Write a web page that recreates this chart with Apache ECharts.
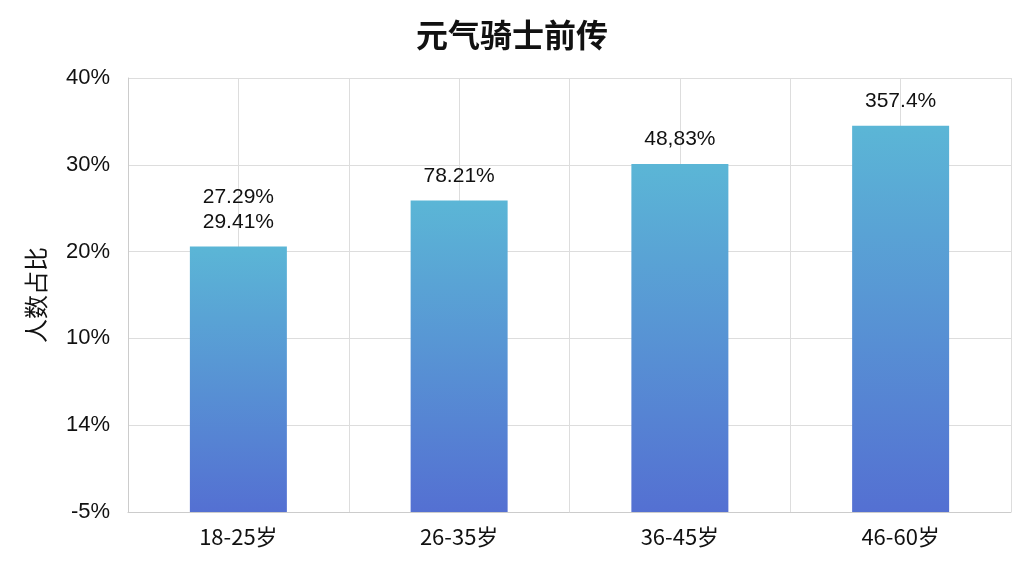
<!DOCTYPE html>
<html><head><meta charset="utf-8">
<script src="https://cdn.jsdelivr.net/npm/echarts@6/dist/echarts.min.js"></script>
<style>html,body{margin:0;padding:0;background:#fff}#c{width:1024px;height:576px}</style>
</head><body><div id="c"></div>
<script>
const categories = ['18-25岁','26-35岁','36-45岁','46-60岁'];
const values = [30.6, 35.9, 40.1, 44.5];
const barLabels = ['27.29%\n29.41%','78.21%','48,83%','357.4%'];
const tickLabels = ['-5%','14%','10%','20%','30%','40%'];
const chart = echarts.init(document.getElementById('c'));
chart.setOption({
  title:{text:'元气骑士前传',left:'center',top:14,textStyle:{fontSize:32,fontWeight:'bold',color:'#111',fontFamily:'Noto Sans CJK SC'}},
  grid:{left:128,right:13,top:78,bottom:64},
  xAxis:[{type:'category',data:categories,axisTick:{show:false},axisLine:{lineStyle:{color:'#ccc'}},
    axisLabel:{fontSize:22,color:'#111',margin:14,fontFamily:'Noto Sans CJK SC'},splitLine:{show:false}},
    {type:'value',min:0,max:8,interval:1,show:true,position:'bottom',axisLabel:{show:false},axisTick:{show:false},axisLine:{show:false},splitLine:{show:true,lineStyle:{color:'#ddd'}}}],
  yAxis:{type:'value',min:0,max:50,interval:10,name:'人数占比',nameLocation:'middle',nameGap:80,
    nameTextStyle:{fontSize:24,color:'#111',fontFamily:'Noto Sans CJK SC'},
    axisLine:{show:true,lineStyle:{color:'#ccc'}},axisTick:{show:false},
    axisLabel:{fontSize:22,color:'#111',margin:18,formatter:(v)=>tickLabels[Math.round(v/10)]},
    splitLine:{lineStyle:{color:'#ddd'}}},
  series:[{type:'bar',data:values,barWidth:97,xAxisIndex:0,
    itemStyle:{color:new echarts.graphic.LinearGradient(0,0,0,1,[{offset:0,color:'#5bb6d6'},{offset:1,color:'#5470d2'}])},
    label:{show:true,position:'top',distance:12,fontSize:21,color:'#111',lineHeight:25,formatter:(p)=>barLabels[p.dataIndex]}}]
});
</script></body></html>
